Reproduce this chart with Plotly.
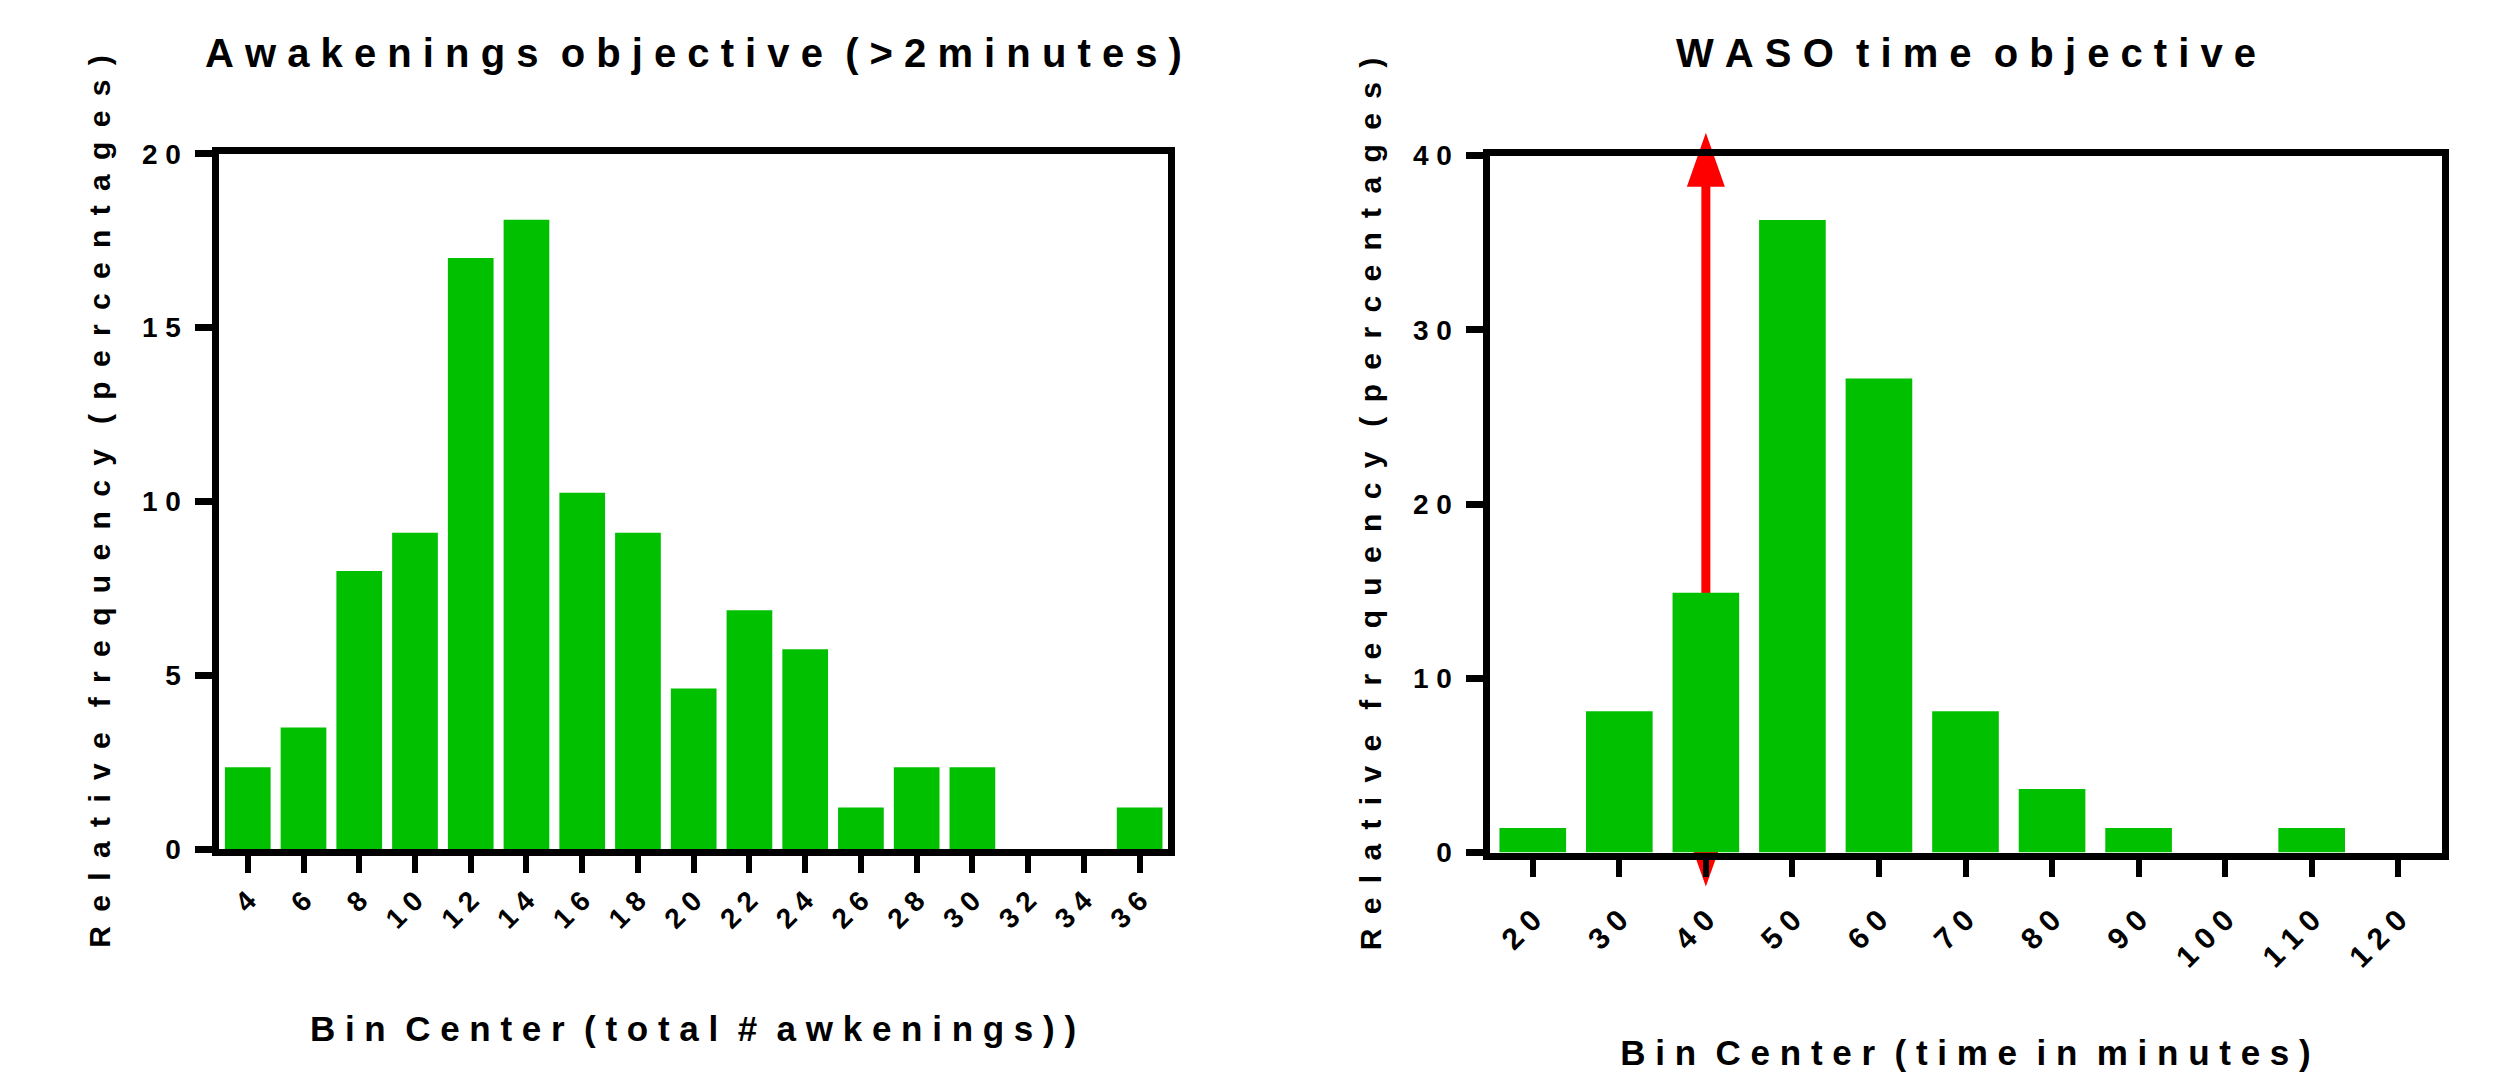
import plotly.graph_objects as go

# ---------------- data ----------------
awk_bins = [4, 6, 8, 10, 12, 14, 16, 18, 20, 22, 24, 26, 28, 30, 32, 34, 36]
awk_pct = [2.36, 3.5, 8.0, 9.1, 17.0, 18.1, 10.25, 9.1, 4.62, 6.87, 5.75, 1.2, 2.36, 2.36, 0, 0, 1.2]
awk_yticks = [0, 5, 10, 15, 20]

waso_bins = [20, 30, 40, 50, 60, 70, 80, 90, 100, 110, 120]
waso_pct = [1.4, 8.1, 14.9, 36.3, 27.2, 8.1, 3.65, 1.4, 0, 1.4, 0]
waso_yticks = [0, 10, 20, 30, 40]

# red marker arrow on the WASO panel (bin value and vertical extent in data units)
arrow_x = 40
arrow_tip_top = 41.3
arrow_base_top = 38.2
arrow_tip_bottom = -1.95
arrow_base_bottom = 1.1

title_left = "Awakenings objective (>2minutes)"
title_right = "WASO time objective"
xtitle_left = "Bin Center (total # awkenings))"
xtitle_right = "Bin Center (time in minutes)"
ytitle = "Relative frequency (percentages)"

# ---------------- style ----------------
W, H = 2493, 1081
OFF = 8          # page body margin
LW = 7           # axis line width
GREEN = "rgb(0,192,0)"
FONT = "Liberation Sans, Arial, sans-serif"
NB = "\u00a0"
THIN = "\u2009"


def spaced(s, gap=NB, word_gap=NB * 3):
    return word_gap.join(gap.join(w) for w in s.split(" "))


def px_x(p):
    return (p - OFF) / W


def px_y(p):
    return 1 - (p - OFF) / H


h = LW / 2
dom_x1 = [px_x(215 + h), px_x(1171 - h)]
dom_x2 = [px_x(1486 + h), px_x(2445 - h)]
dom_y1 = [px_y(852.7 - h), px_y(150.3 + h)]
dom_y2 = [px_y(856 - h), px_y(152 + h)]

fig = go.Figure()
fig.add_trace(go.Bar(x=awk_bins, y=awk_pct, marker=dict(color=GREEN, line=dict(width=0)),
                     xaxis="x", yaxis="y", width=2 * 0.82))
fig.add_trace(go.Bar(x=waso_bins, y=waso_pct, marker=dict(color=GREEN, line=dict(width=0)),
                     xaxis="x2", yaxis="y2", width=10 * 0.77))

tickfont = dict(family=FONT, size=28, color="black", weight="bold")
tickfont2 = dict(family=FONT, size=30, color="black", weight="bold")
titlefont = dict(family=FONT, size=35, color="black", weight="bold")
yfont = dict(family=FONT, size=30, color="black", weight="bold")

common_x = dict(showline=True, linewidth=LW, linecolor="black", mirror=True, ticks="outside",
                ticklen=17, tickwidth=6, tickcolor="black", showgrid=False, zeroline=False,
                tickangle=-45, automargin=False)
common_y = dict(showline=True, linewidth=LW, linecolor="black", mirror=True, ticks="outside",
                ticklen=17, tickwidth=7, tickcolor="black", showgrid=False, zeroline=False,
                tickfont=tickfont, automargin=False, ticklabelstandoff=8)

ytitle_txt = spaced(ytitle, gap=NB + THIN, word_gap=NB * 3)

fig.update_layout(
    width=W, height=H, margin=dict(l=0, r=0, t=0, b=0, autoexpand=False),
    paper_bgcolor="white", plot_bgcolor="rgba(0,0,0,0)", showlegend=False,
    xaxis=dict(domain=dom_x1, anchor="y", range=[2.95, 37.0],
               tickvals=awk_bins, ticktext=[spaced(str(v)) for v in awk_bins], tickfont=tickfont,
               title=dict(text=spaced(xtitle_left, word_gap=NB * 2), font=titlefont, standoff=86),
               **common_x),
    yaxis=dict(domain=dom_y1, anchor="x", range=[0, 20],
               tickvals=awk_yticks, ticktext=[spaced(str(v)) for v in awk_yticks],
               title=dict(text=ytitle_txt, font=yfont, standoff=25),
               **common_y),
    xaxis2=dict(domain=dom_x2, anchor="y2", range=[15, 125],
                tickvals=waso_bins, ticktext=[spaced(str(v)) for v in waso_bins], tickfont=tickfont2,
                ticklabelstandoff=14,
                title=dict(text=spaced(xtitle_right, word_gap=NB * 2), font=titlefont, standoff=70),
                **common_x),
    yaxis2=dict(domain=dom_y2, anchor="x2", range=[0, 40],
                tickvals=waso_yticks, ticktext=[spaced(str(v)) for v in waso_yticks],
                title=dict(text=ytitle_txt, font=yfont, standoff=25),
                **common_y),
)

for ref, txt in (("x domain", title_left), ("x2 domain", title_right)):
    fig.add_annotation(text=spaced(txt, word_gap=NB * 2), xref=ref, x=0.5, yref="paper",
                       y=px_y(53), xanchor="center", yanchor="middle", showarrow=False,
                       font=dict(family=FONT, size=40, color="black", weight="bold"))


def y2paper(v):
    r0, r1 = 0, 40
    return dom_y2[0] + (v - r0) / (r1 - r0) * (dom_y2[1] - dom_y2[0])


yt, yt2 = y2paper(arrow_tip_top), y2paper(arrow_base_top)
yb, yb2 = y2paper(arrow_tip_bottom), y2paper(arrow_base_bottom)
hw, sw = 19, 4.5
path = (f"M{-sw},{yb2} L{-sw},{yt2} L{-hw},{yt2} L0,{yt} L{hw},{yt2} L{sw},{yt2} "
        f"L{sw},{yb2} L{hw},{yb2} L0,{yb} L{-hw},{yb2} Z")
fig.add_shape(type="path", xref="x2", yref="paper", xsizemode="pixel", xanchor=arrow_x,
              path=path, fillcolor="red", line=dict(width=0), layer="below")

fig.write_html("out.html")
